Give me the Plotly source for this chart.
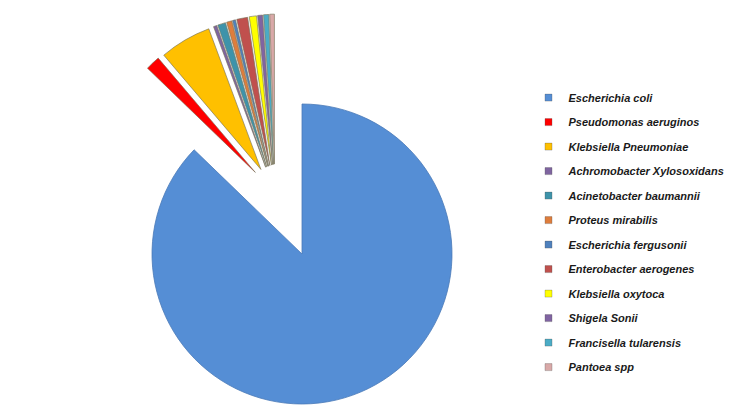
import math
import plotly.graph_objects as go

# data (share of isolates, %)
labels = ['Escherichia coli', 'Pseudomonas aeruginos', 'Klebsiella Pneumoniae',
          'Achromobacter Xylosoxidans', 'Acinetobacter baumannii', 'Proteus mirabilis',
          'Escherichia fergusonii', 'Enterobacter aerogenes', 'Klebsiella oxytoca',
          'Shigela Sonii', 'Francisella tularensis', 'Pantoea spp']
values = [87.19, 1.56, 5.56, 0.36, 0.86, 0.56, 0.33, 1.17, 0.78, 0.53, 0.56, 0.50]
colors = ['#558ED5', '#FF0000', '#FFC000', '#7F65A0', '#3E93AA', '#DE7D3C',
          '#4F81BD', '#C0504D', '#FFFF00', '#8064A2', '#4BACC6', '#D9A9A8']

W, H = 750, 406
R = 150                # pie radius px
CX, CY = 294, 160      # pie centre, px from left / bottom (page has 8px body margin)
EXPLODE = 94           # how far the small slices are pulled out, px
FAN = 336              # direction the pulled slices fan around (deg, clockwise from 12)

total = sum(values)
fig = go.Figure()

# one pie per slice so every slice can be pulled out by its own offset
start = 0
for i, v in enumerate(values):
    ang = v / total * 360
    mid = start + ang / 2
    start += ang
    if i == 0:
        dx = dy = 0
    else:
        d = math.radians(FAN + 0.3 * (mid - FAN))
        dx, dy = EXPLODE * math.sin(d), EXPLODE * math.cos(d)
    cx, cy = CX + dx, CY + dy
    edge = '#4A7AB8' if i == 0 else 'rgba(120,115,90,0.8)'
    fig.add_trace(go.Pie(
        labels=labels, values=values, sort=False, direction='clockwise', rotation=0,
        marker=dict(colors=[c if j == i else 'rgba(0,0,0,0)' for j, c in enumerate(colors)],
                    line=dict(color=[edge if j == i else 'rgba(0,0,0,0)' for j in range(len(values))],
                              width=[0.8 if j == i else 0 for j in range(len(values))])),
        textinfo='none', hoverinfo='skip', showlegend=False,
        domain=dict(x=[(cx - R) / W, (cx + R) / W], y=[(cy - R) / H, (cy + R) / H])))

# legend entries
for name, c in zip(labels, colors):
    fig.add_trace(go.Scatter(x=[None], y=[None], mode='markers', name=name, legendgroup=name,
                             marker=dict(symbol='square', size=7, color=c,
                                         line=dict(width=0.5, color='rgba(80,80,80,0.6)')),
                             hoverinfo='skip'))

fig.update_layout(
    width=W, height=H,
    margin=dict(l=0, r=0, t=0, b=0),
    paper_bgcolor='white', plot_bgcolor='rgba(0,0,0,0)',
    xaxis=dict(visible=False), yaxis=dict(visible=False),
    legend=dict(x=0.694, xanchor='left', y=0.815, yanchor='top',
                traceorder='grouped', tracegroupgap=5.5,
                font=dict(family='Liberation Sans, Arial', size=11, color='#1A1A1A',
                          weight='bold', style='italic')),
)
fig.write_html("out.html")
